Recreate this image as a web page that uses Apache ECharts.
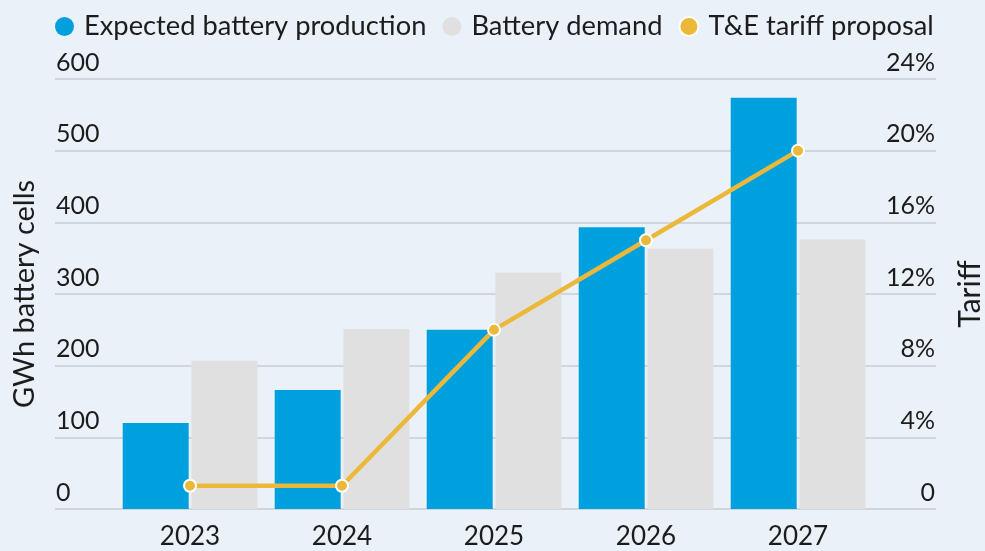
<!DOCTYPE html>
<html><head><meta charset="utf-8">
<script src="https://cdn.jsdelivr.net/npm/echarts@6/dist/echarts.min.js"></script>
<style>html,body{margin:0;padding:0;background:#ebf1f9;}#c{width:985px;height:551px;}</style>
</head><body><div id="c"></div>
<script>
const years = ['2023','2024','2025','2026','2027'];
const production = [120, 166, 250, 393, 574];
const demand = [207, 251, 330, 363, 376];
const tariff = [1.3, 1.3, 10, 15, 20];
const leftTicks = {min: 0, max: 600, interval: 100};
const rightTicks = {min: 0, max: 24, interval: 4};

const FONT = 'Lato';
const TXT = '#1c1c1c';
const chart = echarts.init(document.getElementById('c'));
chart.setOption({
  backgroundColor: '#ebf1f9',
  textStyle: {fontFamily: FONT, color: TXT},
  legend: {
    left: 50, top: 8, itemWidth: 19, itemHeight: 19, icon: 'circle', itemGap: 16,
    textStyle: {fontFamily: FONT, fontSize: 27.3, color: TXT, padding: [0, 0, 0, 5]},
    data: ['Expected battery production', 'Battery demand', 'T&E tariff proposal']
  },
  grid: [
    {left: 114, right: 111, top: 79, bottom: 42, outerBoundsMode: 'none', containLabel: false},
    {left: 55, right: 49, top: 79, bottom: 42, outerBoundsMode: 'none', containLabel: false}
  ],
  xAxis: [
    {gridIndex: 0, type: 'category', data: years,
     axisLine: {show: false}, axisTick: {show: false},
     axisLabel: {fontFamily: FONT, fontSize: 26, color: TXT, margin: 15}},
    {gridIndex: 1, type: 'value', min: 0, max: 1, show: false}
  ],
  yAxis: [
    {gridIndex: 0, type: 'value', ...leftTicks, show: false, splitLine: {show: false}},
    {gridIndex: 0, type: 'value', ...rightTicks, show: false, splitLine: {show: false}},
    {gridIndex: 1, type: 'value', ...leftTicks, position: 'left',
     name: 'GWh battery cells', nameLocation: 'middle', nameRotate: 90, nameGap: 16,
     nameTextStyle: {fontFamily: FONT, fontSize: 29, color: TXT},
     axisLine: {show: false}, axisTick: {show: false},
     axisLabel: {inside: true, margin: 1, verticalAlign: 'bottom', padding: [0,0,4,0],
       fontFamily: FONT, fontSize: 25, color: TXT},
     splitLine: {show: true, lineStyle: {color: '#c9ccd3', width: 1.5}}},
    {gridIndex: 1, type: 'value', ...rightTicks, position: 'right',
     name: 'Tariff', nameLocation: 'middle', nameRotate: 90, nameGap: 19,
     nameTextStyle: {fontFamily: FONT, fontSize: 30, color: TXT},
     axisLine: {show: false}, axisTick: {show: false},
     axisLabel: {inside: true, margin: 1, verticalAlign: 'bottom', padding: [0,0,4,0],
       fontFamily: FONT, fontSize: 25, color: TXT,
       formatter: v => v === 0 ? '0' : v + '%'},
     splitLine: {show: false}}
  ],
  series: [
    {name: 'Expected battery production', type: 'bar', xAxisIndex: 0, yAxisIndex: 0,
     data: production, barWidth: '43.4%', barGap: '4%', itemStyle: {color: '#00a0df'}, z: 2},
    {name: 'Battery demand', type: 'bar', xAxisIndex: 0, yAxisIndex: 0,
     data: demand, barWidth: '43.4%', barGap: '4%', itemStyle: {color: '#e0e0e0'}, z: 2},
    {name: 'T&E tariff proposal', type: 'line', xAxisIndex: 0, yAxisIndex: 1,
     data: tariff, symbol: 'circle', symbolSize: 12,
     lineStyle: {color: '#ecb83a', width: 4.5},
     itemStyle: {color: '#ecb83a', borderColor: '#ffffff', borderWidth: 2}, z: 5}
  ]
});
</script></body></html>
